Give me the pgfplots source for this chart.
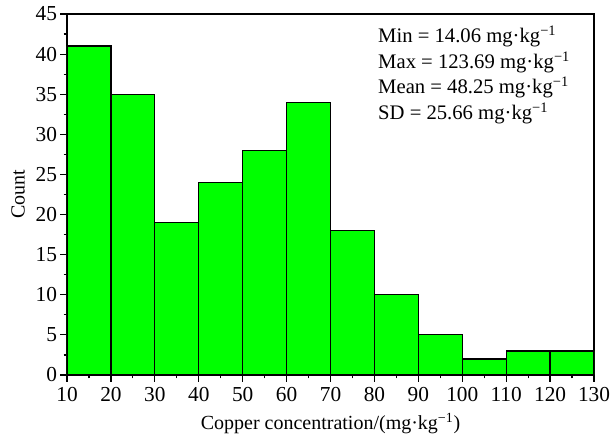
\documentclass[border=0pt]{standalone}
\usepackage{pgfplots}
\pgfplotsset{compat=1.18}
\usepackage{fontspec}
\setmainfont{Liberation Serif}
\definecolor{barfill}{RGB}{0,255,0}
\newcommand{\unit}{mg·kg\textsuperscript{−1}}
\begin{document}
\begin{tikzpicture}
\begin{axis}[
  scale only axis,
  width=395.25pt, height=270.75pt,
  xmin=10, xmax=130, ymin=0, ymax=45,
  xtick={10,20,...,130},
  ytick={0,5,...,45},
  minor x tick num=1,
  minor y tick num=1,
  tick align=outside,
  xtick pos=bottom, ytick pos=left,
  major tick length=5pt, minor tick length=2.6pt,
  tick style={black, line width=0.9pt},
  axis line style={line width=0.9pt},
  /pgf/number format/assume math mode=true,
  ticklabel style={font=\fontsize{16}{19}\selectfont},
  xticklabel style={inner sep=1pt, yshift=-3pt},
  yticklabel style={xshift=1pt},
  xlabel={Copper concentration/(\unit)},
  ylabel={Count},
  xlabel style={font=\fontsize{15}{18}\selectfont, inner sep=1pt,
                at={(axis description cs:0.5,-0.15)}, anchor=base},
  ylabel style={font=\fontsize{15}{18}\selectfont,
                at={(axis description cs:-0.093,0.5)}, anchor=center},
]
\addplot[ybar interval, fill=barfill, draw=black, line width=0.9pt]
  coordinates {(10,41) (20,35) (30,19) (40,24) (50,28) (60,34)
               (70,18) (80,10) (90,5) (100,2) (110,3) (120,3) (130,3)};
\begin{scope}[every node/.style={anchor=base west, inner sep=0pt,
              font=\fontsize{15.5}{19}\selectfont}]
\node at (axis cs:80.8,41.39) {Min = 14.06 \unit};
\node at (axis cs:80.8,38.23) {Max = 123.69 \unit};
\node at (axis cs:80.8,35.08) {Mean = 48.25 \unit};
\node at (axis cs:80.8,31.91) {SD = 25.66 \unit};
\end{scope}
\end{axis}
\pgfresetboundingbox
\path[use as bounding box] (-50.25pt,-49.5pt) rectangle (409.5pt,281.25pt);
\end{tikzpicture}
\end{document}
